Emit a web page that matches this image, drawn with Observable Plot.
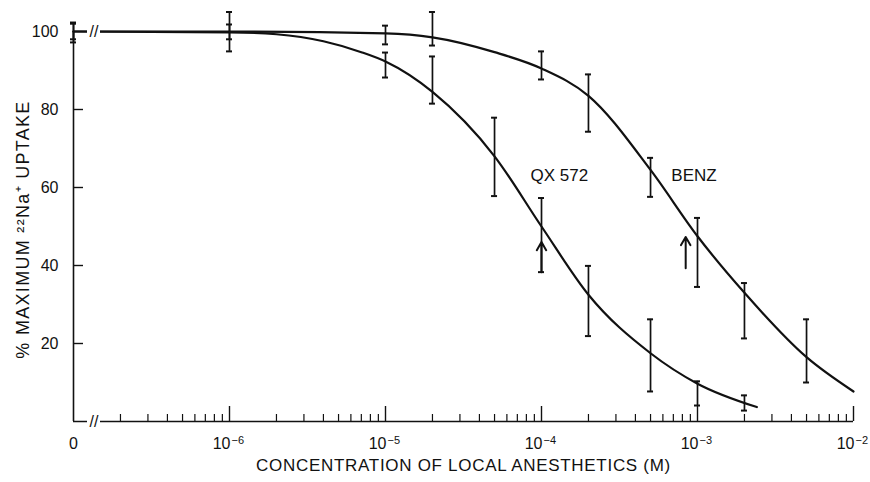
<!DOCTYPE html>
<html><head><meta charset="utf-8">
<script src="https://cdn.jsdelivr.net/npm/d3@7"></script>
<script src="https://cdn.jsdelivr.net/npm/@observablehq/plot@0.6"></script>
<style>
body{margin:0;background:#fff}
svg{font-family:"Liberation Sans",Arial,Helvetica,sans-serif}
</style>
</head><body><div id="chart"></div>
<script>
// concentrations (M); 0 = no anesthetic (drawn at the axis break)
const concentrations = [0, 1e-6, 1e-5, 2e-5, 5e-5, 1e-4, 2e-4, 5e-4, 1e-3, 2e-3, 5e-3];
// QX 572: mean and error-bar limits (% maximum uptake)
const qxMean = [100, 100, 92.3, 84, 68, 49.9, 32.4, 17.4, 9.6, 4.9, null];
const qxLow  = [97.2, 94.9, 88.2, 81.5, 57.8, 38.3, 21.9, 7.7, 4.1, 2.8, null];
const qxHigh = [102.3, 105, 94.6, 93.6, 77.9, 57.3, 39.9, 26.2, 10.3, 6.7, null];
// BENZ
const benzMean = [100, 100, 99.5, 98.7, null, 90.6, 83.7, 64, 47.3, 32.9, 16.5];
const benzLow  = [98, 98, 96.7, 96.4, null, 87.7, 74.3, 57.6, 34.5, 21.3, 10];
const benzHigh = [102, 101.8, 101.5, 105, null, 94.9, 89, 67.6, 52.2, 35.5, 26.2];
// fitted curves
const qxCurveX = [0, 1e-6, 2e-6, 4e-6, 7e-6, 1e-5, 2e-5, 5e-5, 1e-4, 2e-4, 5e-4, 1e-3, 2.4e-3];
const qxCurveY = [100, 99.8, 99.3, 97.5, 94.7, 92.3, 84.5, 68, 50, 32.5, 17.5, 9.7, 3.7];
const benzCurveX = [0, 1e-6, 1e-5, 2e-5, 5e-5, 1e-4, 2e-4, 5e-4, 1e-3, 2e-3, 5e-3, 1e-2];
const benzCurveY = [100, 100, 99.5, 98.5, 94.7, 90.5, 83.5, 64.5, 47.5, 33, 16.5, 7.7];
// IC50 arrows
const arrowX = [1e-4, 8.4e-4];
const arrowFrom = [38.3, 39.3];
const arrowTo = [46, 47.3];
// series labels
const seriesNames = ["QX 572", "BENZ"];
const labelX = [1.3e-4, 9.5e-4];
const labelY = [63, 63];
// axes
const xTickValues = [0, 1e-6, 1e-5, 1e-4, 1e-3, 1e-2];
const xTickBase = ["0", "10", "10", "10", "10", "10"];
const xTickExponent = [null, "\u22126", "\u22125", "\u22124", "\u22123", "\u22122"];
const yTickValues = [20, 40, 60, 80, 100];
const xTitle = "CONCENTRATION OF LOCAL ANESTHETICS (M)";
const yTitle = "% MAXIMUM \u00B2\u00B2Na\u207A UPTAKE";

const ZERO = 1e-7;            // position of "0" on the log axis
const BREAK = [1.23e-7, 1.49e-7];
const pos = c => c === 0 ? ZERO : c;

const bars = [];
concentrations.forEach((c, i) => {
  if (qxMean[i] != null) bars.push({x: pos(c), lo: qxLow[i], hi: qxHigh[i]});
  if (benzMean[i] != null) bars.push({x: pos(c), lo: benzLow[i], hi: benzHigh[i]});
});
const qxCurve = qxCurveX.map((x, i) => ({x: pos(x), y: qxCurveY[i]}));
const benzCurve = benzCurveX.map((x, i) => ({x: pos(x), y: benzCurveY[i]}));
const arrows = arrowX.map((x, i) => ({x, y1: arrowFrom[i], y2: arrowTo[i]}));
const labels = seriesNames.map((t, i) => ({t, x: labelX[i], y: labelY[i]}));
const majors = xTickValues.filter(d => d > 0);
const minors = [];
for (let k = -7; k <= -3; k++) for (let m = 2; m <= 9; m++) minors.push(m * Math.pow(10, k));
const xTicks = xTickValues.map((v, i) => ({x: pos(v), b: xTickBase[i], e: xTickExponent[i]}));
const xPow = xTicks.filter(d => d.e);
const xPlain = xTicks.filter(d => !d.e);

const ink = "#111";
const chart = Plot.plot({
  width: 870, height: 482,
  marginLeft: 73, marginRight: 17, marginTop: 31, marginBottom: 61,
  x: {type: "log", domain: [ZERO, 1e-2], axis: null},
  y: {domain: [0, 100], axis: null},
  style: {background: "white", color: ink},
  marks: [
    Plot.ruleY([0], {x1: ZERO, x2: 1e-2, stroke: ink, strokeWidth: 1.6}),
    Plot.ruleX([ZERO], {y1: 0, y2: 100, stroke: ink, strokeWidth: 1.6}),
    Plot.ruleX(majors, {x: d => d, y1: 0, y2: 0, insetTop: -15, stroke: ink, strokeWidth: 1.4}),
    Plot.ruleX(minors, {x: d => d, y1: 0, y2: 0, insetTop: -7, stroke: ink, strokeWidth: 1.2}),
    Plot.ruleY(yTickValues.filter(d => d < 100), {y: d => d, x1: ZERO, x2: ZERO, insetRight: -10, stroke: ink, strokeWidth: 1.4}),
    Plot.line(qxCurve, {x: "x", y: "y", curve: "monotone-x", stroke: ink, strokeWidth: 2.2}),
    Plot.line(benzCurve, {x: "x", y: "y", curve: "monotone-x", stroke: ink, strokeWidth: 2.2}),
    Plot.ruleY([0, 100], {y: d => d, x1: BREAK[0], x2: BREAK[1], stroke: "white", strokeWidth: 6}),
    Plot.text([0, 100], {x: Math.sqrt(BREAK[0] * BREAK[1]), y: d => d, text: () => "//", fontSize: 16, fill: ink}),
    Plot.ruleX(bars, {x: "x", y1: "lo", y2: "hi", stroke: ink, strokeWidth: 1.7}),
    Plot.ruleY(bars, {y: "lo", x1: "x", x2: "x", insetLeft: -3, insetRight: -3, stroke: ink, strokeWidth: 2}),
    Plot.ruleY(bars, {y: "hi", x1: "x", x2: "x", insetLeft: -3, insetRight: -3, stroke: ink, strokeWidth: 2}),
    Plot.arrow(arrows, {x1: "x", x2: "x", y1: "y1", y2: "y2", stroke: ink, strokeWidth: 2, headLength: 7}),
    Plot.text(labels, {x: "x", y: "y", text: "t", fontSize: 17, fill: ink}),
    Plot.text(xPlain, {x: "x", y: 0, text: "b", dy: 22, fontSize: 16, fill: ink}),
    Plot.text(xPow, {x: "x", y: 0, text: "b", dy: 22, dx: 1, textAnchor: "end", fontSize: 16, fill: ink}),
    Plot.text(xPow, {x: "x", y: 0, text: "e", dy: 19, dx: 2, textAnchor: "start", fontSize: 11, fill: ink}),
    Plot.text(yTickValues, {x: ZERO, y: d => d, text: d => String(d), dx: -15, textAnchor: "end", fontSize: 16, fill: ink}),
    Plot.text([xTitle], {frameAnchor: "bottom", dy: 49, fontSize: 17, fill: ink}),
    Plot.text([yTitle], {frameAnchor: "left", dx: -50, rotate: -90, textAnchor: "middle", dy: 3, fontSize: 18, fill: ink})
  ]
});
// letter spacing of the titles (as in the printed figure)
d3.select(chart).selectAll("text").each(function () {
  const t = this.textContent;
  if (t === xTitle) this.style.letterSpacing = "0.7px";
  if (t === yTitle) this.style.letterSpacing = "1.3px";
});
document.getElementById("chart").appendChild(chart);
</script>
</body></html>
